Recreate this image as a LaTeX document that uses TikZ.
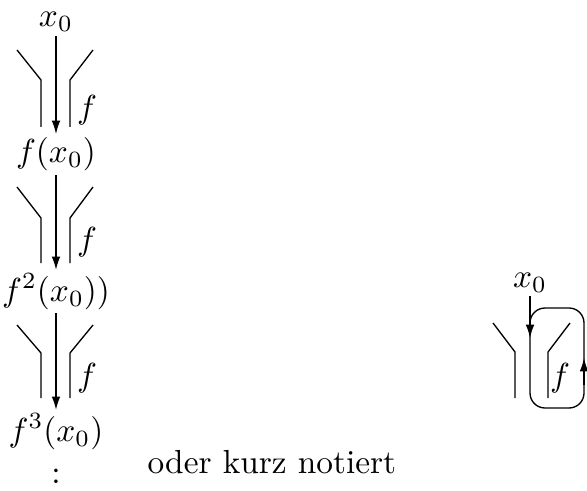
\documentclass[tikz,border=0pt]{standalone}
\usetikzlibrary{positioning,arrows.meta}
\tikzset{
  val/.style={inner sep=1pt,anchor=base},
  lbl/.style={inner sep=0pt},
  pipe/.style={line width=0.4pt},
  arrow/.style={-{Latex[length=4pt,width=2.6pt]},line width=0.4pt},
  loop-line/.style={line width=0.4pt,rounded corners=4.5pt},
}
\begin{document}
\begin{tikzpicture}[x=0.3pt,y=-0.3pt]
  \useasboundingbox (0,0) rectangle (587,490);
  % Iteration, ausgeschrieben
  \node[val] (x0) at (56,27) {$x_0$};
  \node[val] (fx0) at (56,163) {$f(x_0)$};
  \node[val] (f2x0) at (56,301) {$f^2(x_0))$};
  \node[val] (f3x0) at (56,441) {$f^3(x_0)$};
  \node[val] (dots) at (56,483) {:};
  \draw[arrow] (x0) -- (fx0);
  \draw[arrow] (fx0) -- (f2x0);
  \draw[arrow] (f2x0) -- (f3x0);
  \foreach \t/\m/\b/\fy [count=\i] in {50/80/127/110,187/218/263/242,325/353/398/378} {
    \draw[pipe] (17,\t) -- (41,\m) -- (41,\b);
    \draw[pipe] (93,\t) -- (70,\m) -- (70,\b);
    \node[lbl] (f\i) at (87,\fy) {$f$};
  }
  \node[anchor=base west,inner sep=0pt] (note) at (147,473) {oder kurz notiert};
  % kurz: Schleife
  \node[val] (y0) at (530,287) {$x_0$};
  \coordinate (in) at (530,338);
  \coordinate (up) at (584,358);
  \coordinate (up-start) at (584,385);
  \draw[arrow] (y0) -- (in);
  \draw[loop-line] (in) -- (530,408) -- (584,408) -- (584,308) -- (530,308) -- cycle;
  \draw[arrow] (up-start) -- (up);
  \draw[pipe] (493,323) -- (515,352) -- (515,398);
  \draw[pipe] (570,323) -- (548,352) -- (548,398);
  \node[lbl] (f4) at (560,378) {$f$};
\end{tikzpicture}
\end{document}
